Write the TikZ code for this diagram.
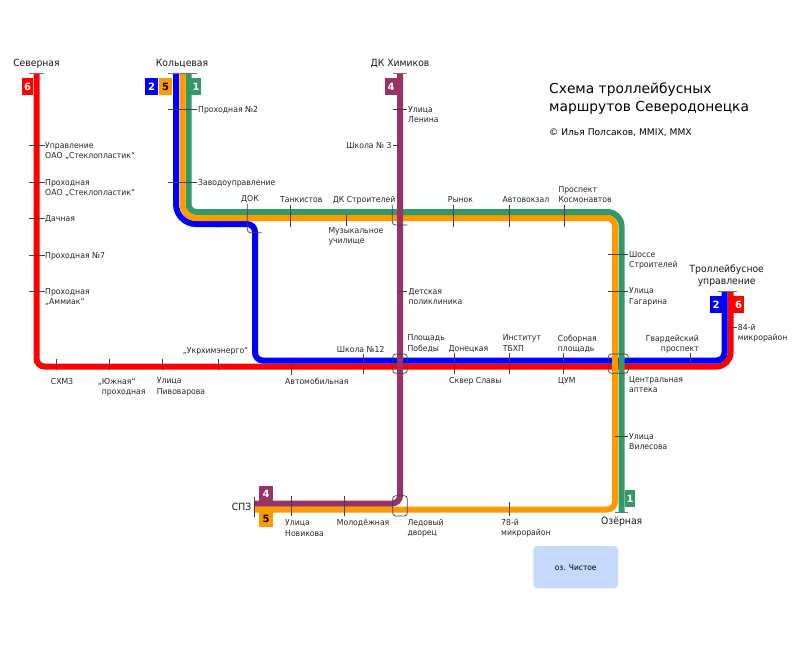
\documentclass[tikz,border=0pt]{standalone}
\usepackage{fontspec}
\setmainfont{DejaVu Sans}
\newfontfamily\narrowfont[FakeStretch=0.935]{DejaVu Sans}
\definecolor{lred}{HTML}{FF0000}
\definecolor{lblue}{HTML}{0000FF}
\definecolor{lorange}{HTML}{FF9900}
\definecolor{lgreen}{HTML}{339966}
\definecolor{lpurple}{HTML}{993366}
\definecolor{lake}{HTML}{C6D9FF}
\tikzset{
 route/.style={line width=6pt,line cap=butt},
 stoptick/.style={line width=0.7pt,black!75},
 endtick/.style={line width=0.8pt,black!55},
 hub/.style={line width=0.7pt,black!75,rounded corners=3pt},
 lbl/.style={font=\narrowfont\fontsize{8.25}{10.5}\selectfont,align=left,anchor=north west,inner sep=0pt,text=black!85},
 lblr/.style={lbl,align=right,anchor=north east},
 term/.style={font=\narrowfont\fontsize{9.9}{12.6}\selectfont,align=center,inner sep=0pt,text=black!90},
 badge/.style={inner sep=0pt,minimum height=17pt,text=white,font=\bfseries\fontsize{10}{10}\selectfont},
}
\begin{document}
\begin{tikzpicture}[x=1pt,y=-1pt]
\useasboundingbox (0,0) rectangle (800,655);
% lake
\node[fill=lake,rounded corners=4pt,minimum width=84.7pt,minimum height=42.3pt,inner sep=0pt,font=\narrowfont\fontsize{8}{10}\selectfont] (lakeN) at (575.7,567.2) {оз. Чистое};
% badges
\node[badge,fill=lred,minimum width=11pt] (b6a) at (27.5,86.5) {6};
\node[badge,fill=lblue,minimum width=13pt] (b2a) at (151.5,86.5) {2};
\node[badge,fill=lorange,minimum width=13pt,text=black] (b5a) at (165.5,86.5) {5};
\node[badge,fill=lgreen,minimum width=10pt] (b1a) at (196,86.5) {1};
\node[badge,fill=lpurple,minimum width=11.7pt] (b4a) at (391.2,86.5) {4};
\node[badge,fill=lblue,minimum width=12pt] (b2b) at (716,304.5) {2};
\node[badge,fill=lred,minimum width=11pt] (b6b) at (738.5,304.5) {6};
\node[badge,fill=lpurple,minimum width=13.5pt,minimum height=15pt] (b4b) at (266.2,493.5) {4};
\node[badge,fill=lorange,minimum width=13.5pt,minimum height=15pt,text=black] (b5b) at (266.2,519) {5};
\node[badge,fill=lgreen,minimum width=10.5pt] (b1b) at (630,498.5) {1};
% routes
\draw[route,lred,rounded corners=8pt] (36.5,73) -- (36.5,366.5) -- (400,366.5);
\draw[route,lred,rounded corners=14pt] (400,366.5) -- (730.5,366.5) -- (730.5,291);
\draw[route,lblue,rounded corners=8pt] (724.5,291) -- (724.5,360.5) -- (255,360.5) -- (255,224) -- (215,224);
\draw[route,lblue,rounded corners=20pt] (220,224) -- (176,224) -- (176,73);
\draw[route,lgreen,rounded corners=8pt] (188.5,73) -- (188.5,212) -- (400,212);
\draw[route,lorange,rounded corners=14pt] (182.5,73) -- (182.5,218) -- (400,218);
\draw[route,lorange,rounded corners=8pt] (400,218) -- (615,218) -- (615,509.5) -- (255,509.5);
\draw[route,lgreen,rounded corners=14pt] (400,212) -- (621.5,212) -- (621.5,512);
\draw[route,lpurple,rounded corners=8pt] (400,73) -- (400,503.5) -- (255,503.5);
% terminals
\draw[endtick] (29.3,73) -- (43.7,73);
\draw[endtick] (168,73) -- (196.7,73);
\draw[endtick] (393,73) -- (407,73);
\draw[endtick] (717.7,291) -- (736.7,291);
\draw[stoptick] (254.7,496.7) -- (254.7,516.7);
\draw[endtick] (614.7,512) -- (628.3,512);
% ticks on vertical lines
\foreach \y in {145,182,218,255,291} \draw[stoptick] (29.3,\y) -- (44.7,\y);
\foreach \y in {109,182} \draw[stoptick] (168,\y) -- (197,\y);
\draw[stoptick] (393,109) -- (407,109);
\draw[stoptick] (393,145) -- (399,145);
\draw[stoptick] (397.3,291) -- (406.5,291);
\foreach \y in {254.3,291} \draw[stoptick] (608.3,\y) -- (628,\y);
\draw[stoptick] (615,436) -- (628,436);
\draw[stoptick] (727,327) -- (737,327);
% ticks on horizontal lines
\foreach \x in {290.7,453.3,509,564.5} \draw[stoptick] (\x,205) -- (\x,226.7);
\draw[stoptick] (346.3,215) -- (346.3,226);
\foreach \x in {56,109.3,162,218} \draw[stoptick] (\x,359) -- (\x,370);
\draw[stoptick] (291,363) -- (291,375);
\draw[stoptick] (363.7,354) -- (363.7,374);
\foreach \x in {454.3,509.3,563.7} \draw[stoptick] (\x,353.3) -- (\x,374);
\draw[stoptick] (690.7,353) -- (690.7,364);
\foreach \x in {291,344.3} \draw[stoptick] (\x,496) -- (\x,516);
\draw[stoptick] (509,501.7) -- (509,515.7);
% hubs
\draw[hub] (392.3,205) -- (392.3,225) -- (407.3,225);
\draw[hub] (247.3,204) -- (247.3,232.7) -- (261.7,232.7);
\draw[hub] (392.7,354) rectangle (407.3,373.3);
\draw[hub] (608.3,354) rectangle (628.3,373.3);
\draw[hub] (392.7,495.7) rectangle (407.3,516);
% terminal labels
\node[term] (tSev) at (36.5,63.5) {Северная};
\node[term] (tKol) at (182,63.5) {Кольцевая};
\node[term] (tDK) at (400,63.5) {ДК Химиков};
\node[term] (tTU) at (726.7,275.5) {Троллейбусное\\управление};
\node[term,anchor=east] (tSPZ) at (251.5,506.5) {СПЗ};
\node[term] (tOz) at (621.7,521.7) {Озёрная};
% stops
\node[lbl] (s1) at (45,142) {Управление\\ОАО „Стеклопластик“};
\node[lbl] (s2) at (45,179) {Проходная\\ОАО „Стеклопластик“};
\node[lbl] (s3) at (45,215) {Дачная};
\node[lbl] (s4) at (45,252) {Проходная №7};
\node[lbl] (s5) at (45,288) {Проходная\\„Аммиак“};
\node[lbl] (s6) at (198,106) {Проходная №2};
\node[lbl] (s7) at (198,179) {Заводоуправление};
\node[lbl] (s8) at (241,195.3) {ДОК};
\node[lbl] (s9) at (280,196) {Танкистов};
\node[lbl] (s10) at (332.7,196) {ДК Строителей};
\node[lbl] (s11) at (328.3,227) {Музыкальное\\училище};
\node[lbl] (s12) at (447.7,196) {Рынок};
\node[lbl] (s13) at (502.3,196) {Автовокзал};
\node[lbl] (s14) at (558.3,186) {Проспект\\Космонавтов};
\node[lblr] (s15) at (391.7,142) {Школа № 3};
\node[lbl] (s16) at (408,106) {Улица\\Ленина};
\node[lbl] (s17) at (408.3,288) {Детская\\поликлиника};
\node[lbl] (s18) at (407.3,334.7) {Площадь\\Победы};
\node[lbl] (s19) at (448.3,345) {Донецкая};
\node[lbl] (s20) at (502.7,334.7) {Институт\\ТБХП};
\node[lbl] (s21) at (557.7,334.7) {Соборная\\площадь};
\node[lblr] (s22) at (699,334.7) {Гвардейский\\проспект};
\node[lbl] (s23) at (737.7,323.7) {84-й\\микрорайон};
\node[lbl] (s24) at (629,251) {Шоссе\\Строителей};
\node[lbl] (s25) at (629,287.7) {Улица\\Гагарина};
\node[lbl] (s26) at (629,376) {Центральная\\аптека};
\node[lbl] (s27) at (629,433) {Улица\\Вилесова};
\node[lbl] (s28) at (50.7,377.7) {СХМЗ};
\node[lbl] (s29) at (97.7,377.7) {„Южная“\\\hspace*{4pt}проходная};
\node[lbl] (s30) at (156.7,377.7) {Улица\\Пивоварова};
\node[lbl] (s31) at (182.7,347.7) {„Укрхимэнерго“};
\node[lbl] (s32) at (285,377.7) {Автомобильная};
\node[lbl] (s33) at (336.7,346) {Школа №12};
\node[lbl] (s34) at (449,377) {Сквер Славы};
\node[lbl] (s35) at (558,377) {ЦУМ};
\node[lbl] (s36) at (285,519.3) {Улица\\Новикова};
\node[lbl] (s37) at (336.7,519.3) {Молодёжная};
\node[lbl] (s38) at (407.3,518.7) {Ледовый\\дворец};
\node[lbl] (s39) at (501,518.7) {78-й\\микрорайон};
% title
\node[anchor=north west,inner sep=0pt,align=left,font=\fontsize{13.8}{18.4}\selectfont] (title) at (549,82.5) {Схема троллейбусных\\маршрутов Северодонецка};
\node[anchor=north west,inner sep=0pt,font=\fontsize{9.15}{11}\selectfont] (copy) at (549,129) {© Илья Полсаков, MMIX, MMX};
\end{tikzpicture}
\end{document}
